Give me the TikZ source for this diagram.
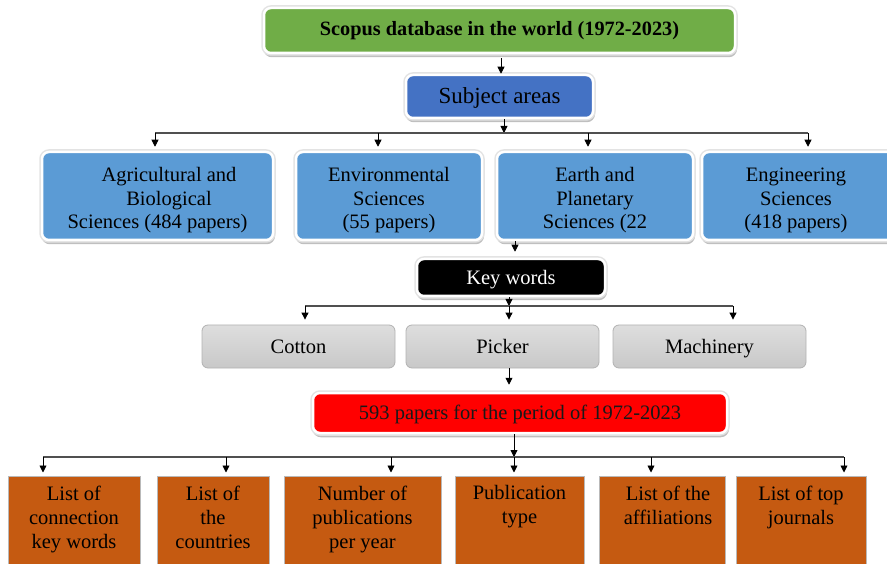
\documentclass[tikz,border=0pt]{standalone}
\usepackage{fontspec}
\setmainfont{Liberation Serif}
\usetikzlibrary{arrows.meta}
\definecolor{cgreen}{HTML}{70AD47}
\definecolor{cdblue}{HTML}{4472C4}
\definecolor{clblue}{HTML}{5B9BD5}
\definecolor{cred}{HTML}{FF0000}
\definecolor{corange}{HTML}{C55A11}
\definecolor{cline}{HTML}{505050}
\definecolor{gtop}{HTML}{DEDEDE}
\definecolor{gbot}{HTML}{C8C8C8}
\begin{document}
\begin{tikzpicture}[x=1pt,y=-1pt,
  every node/.style={inner sep=0pt, align=center},
  rimbox/.style={rounded corners=7pt, draw=white, line width=2.5pt,
    preaction={fill=gray!50, draw=gray!50, line width=2.5pt, transform canvas={xshift=0.8pt,yshift=-3pt}},
    preaction={draw=gray!22, line width=5.5pt}},
  txt/.style={font=\fontsize{20.5}{23.5}\selectfont},
  one/.style={text height=18pt, text depth=4.5pt},
  btext/.style={txt, yshift=-4.5pt},
  abox/.style={rimbox, fill=clblue, minimum height=88pt},
  graybox/.style={rounded corners=6pt, draw=gray!60, line width=0.8pt, top color=gtop, bottom color=gbot,
    minimum width=193pt, minimum height=43pt, txt, one},
  obox/.style={draw=gray!55, line width=1pt, fill=corange, minimum height=124pt},
  otext/.style={anchor=north, yshift=-10pt, font=\fontsize{20.5}{24}\selectfont},
  arr/.style={-{Triangle[length=7pt,width=7pt]}, line width=0.9pt, black},
  hline/.style={line width=1.1pt, draw=cline}
]
\useasboundingbox (0,0) rectangle (887,564);
\clip (0,0) rectangle (887,564);

% top levels
\node[rimbox, fill=cgreen, minimum width=471pt, minimum height=45pt,
      font=\bfseries\fontsize{20.3}{24}\selectfont] (title) at (499.5,30.5) {Scopus database in the world (1972-2023)};
\node[rimbox, fill=cdblue, minimum width=187pt, minimum height=43pt,
      font=\fontsize{23}{27}\selectfont, text height=20pt, text depth=5pt] (subj) at (499.5,96.5) {Subject areas};

% subject area boxes
\node[abox, minimum width=231pt, label={[btext]center:{\hspace*{23pt}Agricultural and\\\hspace*{23pt}Biological\\Sciences (484 papers)}}] (a1) at (157.5,196) {};
\node[abox, minimum width=186pt, label={[btext]center:{Environmental\\Sciences\\(55 papers)}}] (a2) at (389,196) {};
\node[abox, minimum width=196pt, label={[btext]center:{Earth and\\Planetary\\Sciences (22}}] (a3) at (595,196) {};
\node[abox, minimum width=198pt, label={[btext, xshift=-5pt]center:{Engineering\\Sciences\\(418 papers)}}] (a4) at (801,196) {};

% key words
\node[rimbox, fill=black, minimum width=188pt, minimum height=37pt, txt, one, text=white] (kw) at (511,277.5) {Key words};
\node[graybox] (c1) at (298.5,346.5) {Cotton};
\node[graybox] (c2) at (502.5,346.5) {Picker};
\node[graybox] (c3) at (709.5,346.5) {Machinery};

% papers
\node[rimbox, fill=cred, minimum width=414pt, minimum height=40pt, txt, one, text=black!90] (red) at (520,413) {593 papers for the period of 1972-2023};

% outputs
\node[obox, minimum width=132pt, label={[otext]north:{List of\\connection\\key words}}] (o1) at (74,538) {};
\node[obox, minimum width=112pt, label={[otext]north:{List of\\the\\countries}}] (o2) at (213,538) {};
\node[obox, minimum width=157pt, label={[otext]north:{Number of\\publications\\per year}}] (o3) at (362.5,538) {};
\node[obox, minimum width=129pt, label={[otext]north:{Publication\\type}}] (o4) at (519.5,538) {};
\node[obox, minimum width=126pt, label={[otext, xshift=6pt]north:{List of the\\affiliations}}] (o5) at (662,538) {};
\node[obox, minimum width=130pt, label={[otext]north:{List of top\\journals}}] (o6) at (801,538) {};

% junction coordinates
\coordinate (t1) at (501,0);
\coordinate (j1) at (504,133);
\coordinate (s1) at (155,133);
\coordinate (s2) at (378,133);
\coordinate (s3) at (588,133);
\coordinate (s4) at (808,133);
\coordinate (e1) at (515,0);
\coordinate (j2) at (509,306);
\coordinate (k1) at (305,306);
\coordinate (k3) at (733,306);
\coordinate (j3) at (514,457);
\coordinate (r1) at (43,457);
\coordinate (r2) at (226,457);
\coordinate (r3) at (391,457);
\coordinate (r5) at (651,457);
\coordinate (r6) at (844,457);

% connectors
\draw[arr] ([yshift=-4pt]title.south -| t1) -- (subj.north -| t1);
\draw[arr] (subj.south -| j1) -- (j1);
\draw[hline] (s1) -- (s4);
\foreach \s/\b in {s1/a1,s2/a2,s3/a3,s4/a4}
  \draw[arr, shorten >=4pt] (\s) -- (\s |- \b.north);

\draw[arr, shorten >=6pt] (a3.south -| e1) -- (kw.north -| e1);
\draw[arr] (kw.south -| j2) -- (j2);
\draw[hline] (k1) -- (k3);
\draw[arr, shorten >=5pt] (k1) -- (k1 |- c1.north);
\draw[arr, shorten >=5pt] (j2) -- (j2 |- c2.north);
\draw[arr, shorten >=5pt] (k3) -- (k3 |- c3.north);

\draw[arr, shorten >=7pt] (c2.south -| j2) -- (red.north -| j2);
\draw[arr] (red.south -| j3) -- (j3);
\draw[hline] (r1) -- (r6);
\foreach \r/\o in {r1/o1,r2/o2,r3/o3,j3/o4,r5/o5,r6/o6}
  \draw[arr, shorten >=3pt] (\r) -- (\r |- \o.north);
\end{tikzpicture}
\end{document}
